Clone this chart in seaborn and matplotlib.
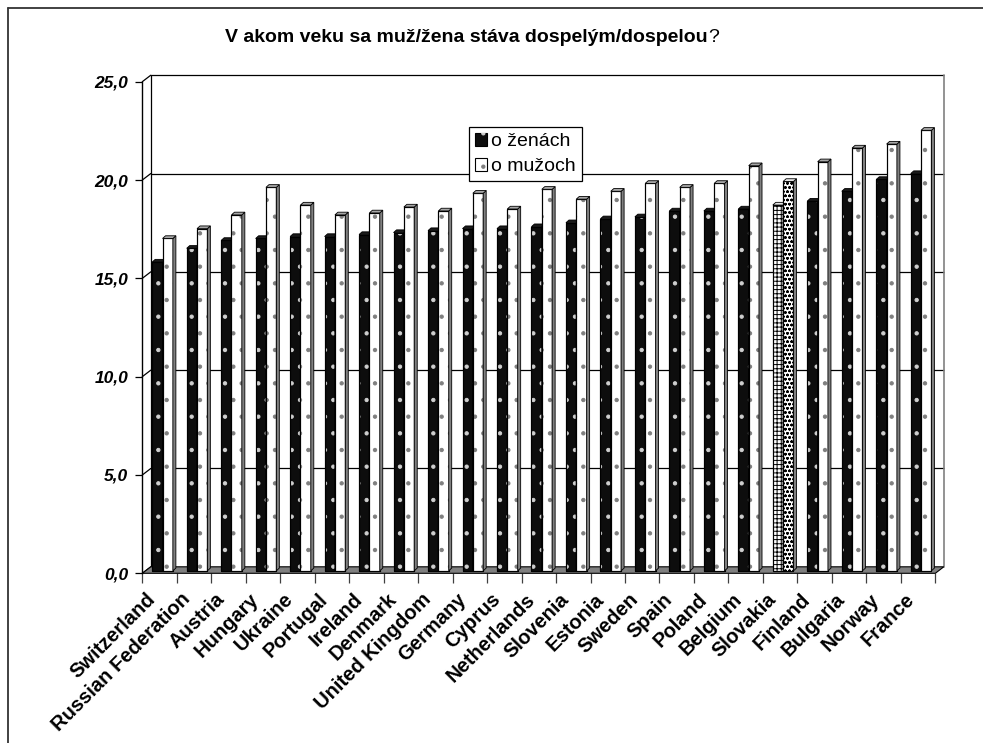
import numpy as np
import pandas as pd
import matplotlib
matplotlib.use("Agg")
import matplotlib.pyplot as plt
import seaborn as sns
from matplotlib.patches import Polygon, Patch
from matplotlib.lines import Line2D

# ---- data -------------------------------------------------------------
countries = ["Switzerland", "Russian Federation", "Austria", "Hungary", "Ukraine",
             "Portugal", "Ireland", "Denmark", "United Kingdom", "Germany", "Cyprus",
             "Netherlands", "Slovenia", "Estonia", "Sweden", "Spain", "Poland",
             "Belgium", "Slovakia", "Finland", "Bulgaria", "Norway", "France"]
women = [15.7, 16.4, 16.8, 16.9, 17.0, 17.0, 17.1, 17.2, 17.3, 17.4, 17.4, 17.5,
         17.7, 17.9, 18.0, 18.3, 18.3, 18.4, 18.6, 18.8, 19.3, 19.9, 20.2]
men = [16.9, 17.4, 18.1, 19.5, 18.6, 18.1, 18.2, 18.5, 18.3, 19.2, 18.4, 19.4,
       18.9, 19.3, 19.7, 19.5, 19.7, 20.6, 19.8, 20.8, 21.5, 21.7, 22.4]
series = ["o ženách", "o mužoch"]
y_ticks = [0, 5, 10, 15, 20, 25]
y_tick_labels = ["0,0", "5,0", "10,0", "15,0", "20,0", "25,0"]
title = "V akom veku sa muž/žena stáva dospelým/dospelou"
highlight = "Slovakia"

# ---- style ------------------------------------------------------------
sns.set_theme(style="white")
plt.rcParams["font.family"] = ["Liberation Sans", "DejaVu Sans"]
plt.rcParams["hatch.linewidth"] = 0.7
plt.rcParams["text.color"] = "black"

W, H = 983, 743
fig = plt.figure(figsize=(W / 100, H / 100), dpi=100)
fig.patch.set_facecolor("white")

# front plane of the box (pixel extents)
x0, x1 = 142.3, 935.3
y0, y1 = 573.3, 81.7
ax = fig.add_axes([x0 / W, 1 - y0 / H, (x1 - x0) / W, (y0 - y1) / H])
ax.patch.set_visible(False)

n = len(countries)
df = pd.DataFrame({
    "country": countries * 2,
    "value": women + men,
    "series": [series[0]] * n + [series[1]] * n,
})
sns.barplot(data=df, x="country", y="value", hue="series", order=countries,
            hue_order=series, palette=["#0d0d0d", "white"], width=0.6,
            saturation=1, edgecolor="black", linewidth=0.8, legend=False,
            ax=ax, zorder=3)

ax.set_xlim(-0.5, n - 0.5)
ax.set_ylim(0, 25)
ax.set_xlabel("")
ax.set_ylabel("")

# pixel -> data scale factors
ppx = (x1 - x0) / n
ppy = (y0 - y1) / 25.0
wdx, wdy = 8.5 / ppx, 6.5 / ppy      # depth of the whole box
bdx, bdy = 3.0 / ppx, 2.5 / ppy      # bars stand half way into the box
ddx, ddy = 3.0 / ppx, 2.7 / ppy      # depth of a single bar

xl_box, xr_box = -0.5, n - 0.5

# back wall
back = Polygon([(xl_box + wdx, wdy), (xr_box + wdx, wdy), (xr_box + wdx, 25 + wdy),
                (xl_box + wdx, 25 + wdy)], closed=True, facecolor="white",
               edgecolor="none", zorder=0.5, clip_on=False)
ax.add_patch(back)
for v in y_ticks[1:]:
    ax.plot([xl_box + wdx, xr_box + wdx], [v + wdy, v + wdy], color="black", lw=0.9,
            zorder=1, clip_on=False, solid_capstyle="butt")
for v in y_ticks:
    ax.plot([xl_box, xl_box + wdx], [v, v + wdy], color="black", lw=0.9,
            zorder=1, clip_on=False)
ax.plot([xr_box + wdx, xr_box + wdx], [wdy, 25 + wdy], color="#808080", lw=1.2,
        zorder=1, clip_on=False)
ax.plot([xl_box + wdx, xl_box + wdx], [wdy, 25 + wdy], color="black", lw=0.9,
        zorder=1, clip_on=False)

# floor
floor = Polygon([(xl_box, 0), (xr_box, 0), (xr_box + wdx, wdy), (xl_box + wdx, wdy)],
                closed=True, facecolor="#808080", edgecolor="black", lw=0.8,
                zorder=2, clip_on=False)
ax.add_patch(floor)

# bars: shift into the box, add dotted textures and 3-D faces
hi = countries.index(highlight)
for k, cont in enumerate(ax.containers):
    for bar in cont:
        idx = int(round(bar.get_x() + bar.get_width() / 2))
        bar.set_x(bar.get_x() + bdx)
        bar.set_y(bdy)
        bar.set_clip_on(False)
        xl = bar.get_x()
        xr = xl + bar.get_width()
        yb = bar.get_y()
        yt = yb + bar.get_height()
        z = 3 + k * 0.5
        bar.set_zorder(z)
        if idx == hi:
            bar.set_facecolor("white")
            hatch, hcol = ("++++", "black") if k == 0 else ("oooo", "black")
            side_c, top_c = "#808080", "#e6e6e6"
        elif k == 0:
            hatch, hcol = ".", "#cfcfcf"
            side_c, top_c = "#000000", "#1a1a1a"
        else:
            hatch, hcol = ".", "#7f7f7f"
            side_c, top_c = "#808080", "#a6a6a6"
        tex = Polygon([(xl, yb), (xr, yb), (xr, yt), (xl, yt)], closed=True,
                      facecolor="none", edgecolor=hcol, lw=0, hatch=hatch,
                      zorder=z + 0.05, clip_on=False)
        ax.add_patch(tex)
        edge = Polygon([(xl, yb), (xr, yb), (xr, yt), (xl, yt)], closed=True,
                       facecolor="none", edgecolor="black", lw=0.8,
                       zorder=z + 0.08, clip_on=False)
        ax.add_patch(edge)
        side = Polygon([(xr, yb), (xr + ddx, yb + ddy), (xr + ddx, yt + ddy), (xr, yt)],
                       closed=True, facecolor=side_c, edgecolor="black", lw=0.6,
                       zorder=z + 0.1, clip_on=False)
        top = Polygon([(xl, yt), (xl + ddx, yt + ddy), (xr + ddx, yt + ddy), (xr, yt)],
                      closed=True, facecolor=top_c, edgecolor="black", lw=0.6,
                      zorder=z + 0.1, clip_on=False)
        ax.add_patch(side)
        ax.add_patch(top)

# axes: spines, ticks and labels
for s in ["top", "right", "bottom"]:
    ax.spines[s].set_visible(False)
ax.spines["left"].set_color("black")
ax.spines["left"].set_linewidth(1.0)
ax.spines["left"].set_zorder(2.5)

ax.set_yticks(y_ticks, y_tick_labels)
ax.tick_params(axis="y", left=True, direction="out", length=5, width=0.9,
               color="black", pad=5, labelsize=12.5, labelcolor="black")
for t in ax.get_yticklabels():
    t.set_fontweight("bold")
    t.set_fontstyle("italic")

ax.set_xticks(np.arange(n + 1) - 0.5, [""] * (n + 1))
ax.tick_params(axis="x", bottom=True, direction="out", length=7, width=0.9,
               color="#404040")
for i, name in enumerate(countries):
    ax.annotate(name, xy=(i, 0), xycoords="data", xytext=(-7, -23),
                textcoords="offset pixels", rotation=45, rotation_mode="anchor",
                ha="right", va="center", fontsize=14.5, fontweight="bold",
                annotation_clip=False)

# legend
handles = []
for k in range(2):
    face = Patch(facecolor="#0d0d0d" if k == 0 else "white", edgecolor="black", lw=0.8)
    dots = Patch(facecolor="none", edgecolor="#cfcfcf" if k == 0 else "#7f7f7f",
                 lw=0, hatch=".")
    handles.append((face, dots))
fig.legend(handles=handles, labels=series, loc="upper left",
           bbox_to_anchor=(469 / W, 1 - 127 / H), frameon=True, fancybox=False,
           edgecolor="black", framealpha=1, borderpad=0.3, labelspacing=0.4,
           handlelength=0.65, handleheight=0.65, handletextpad=0.2,
           borderaxespad=0, fontsize=14)
leg = fig.legends[0]
leg.get_frame().set_linewidth(0.9)

# title, with a plain question mark after the bold text
fig.text(708 / W, 1 - 38 / H, title, ha="right", va="center", fontsize=14,
         fontweight="bold")
fig.text(708 / W, 1 - 38 / H, "?", ha="left", va="center", fontsize=14)

# outer chart frame
fig.add_artist(Line2D([8 / W, 1], [1 - 8 / H, 1 - 8 / H], color="#333333", lw=1.3,
                      transform=fig.transFigure))
fig.add_artist(Line2D([8 / W, 8 / W], [0, 1 - 8 / H], color="#333333", lw=1.3,
                      transform=fig.transFigure))

fig.savefig("out.png", dpi=100)
